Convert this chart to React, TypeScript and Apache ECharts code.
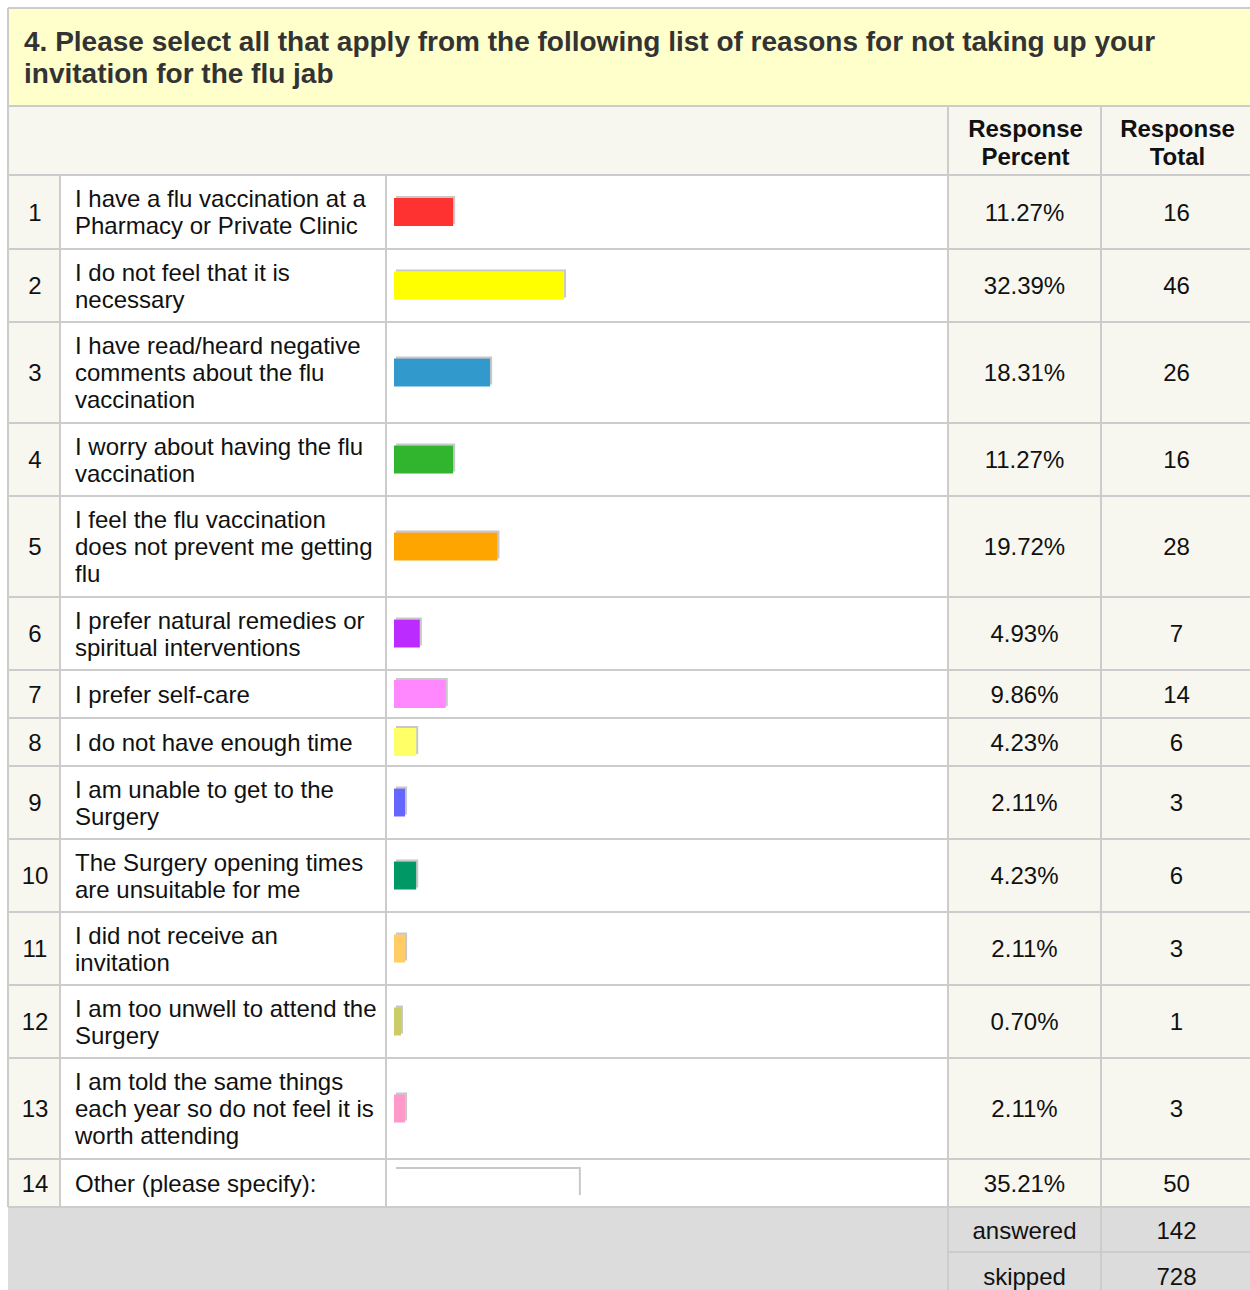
import React, { useEffect, useRef } from "react";
import * as echarts from "echarts";

// ---------- data ----------
const titleLines = [
  "4. Please select all that apply from the following list of reasons for not taking up your",
  "invitation for the flu jab",
];
const headerPercent = "Response\nPercent";
const headerTotal = "Response\nTotal";
const rowNumbers = [1, 2, 3, 4, 5, 6, 7, 8, 9, 10, 11, 12, 13, 14];
const labels = [
  "I have a flu vaccination at a\nPharmacy or Private Clinic",
  "I do not feel that it is\nnecessary",
  "I have read/heard negative\ncomments about the flu\nvaccination",
  "I worry about having the flu\nvaccination",
  "I feel the flu vaccination\ndoes not prevent me getting\nflu",
  "I prefer natural remedies or\nspiritual interventions",
  "I prefer self-care",
  "I do not have enough time",
  "I am unable to get to the\nSurgery",
  "The Surgery opening times\nare unsuitable for me",
  "I did not receive an\ninvitation",
  "I am too unwell to attend the\nSurgery",
  "I am told the same things\neach year so do not feel it is\nworth attending",
  "Other (please specify):",
];
const percents = [11.27, 32.39, 18.31, 11.27, 19.72, 4.93, 9.86, 4.23, 2.11, 4.23, 2.11, 0.7, 2.11, 35.21];
const totals = [16, 46, 26, 16, 28, 7, 14, 6, 3, 6, 3, 1, 3, 50];
const barColors = [
  "#ff3333", "#ffff00", "#3399cc", "#33b52f", "#ffa500", "#bb2bff", "#ff88ff",
  "#ffff66", "#6666ff", "#009966", "#ffcc66", "#cccc66", "#ff99cc", "#ffffff",
];
const footerLabels = ["answered", "skipped"];
const footerValues = [142, 728];

// ---------- layout ----------
const FONT = "'Liberation Sans', Arial, Helvetica, sans-serif";
const LINE = "#cccccc";
const rowTops = [175, 249, 322, 423, 496, 597, 670, 718, 766, 839, 912, 985, 1058, 1159, 1207];
const X0 = 8, XN = 60, XL = 386, XP = 948, XT = 1101, XR = 1250;
const BAR_LEFT = 394, BAR_AREA = 525;

export default function App() {
  const ref = useRef<HTMLDivElement>(null);
  useEffect(() => {
    if (!ref.current) return;
    const chart = echarts.init(ref.current, null, { renderer: "svg" });

    const grids: any[] = [];
    const xAxes: any[] = [];
    const yAxes: any[] = [];
    const series: any[] = [];
    labels.forEach((lab, i) => {
      const top = rowTops[i];
      const h = rowTops[i + 1] - top;
      grids.push({ left: BAR_LEFT, width: BAR_AREA, top, height: h });
      xAxes.push({ gridIndex: i, type: "value", min: 0, max: 100, show: false });
      yAxes.push({ gridIndex: i, type: "category", data: [lab], show: false });
      series.push({
        type: "bar",
        xAxisIndex: i,
        yAxisIndex: i,
        barWidth: 28,
        barMinHeight: 7,
        silent: true,
        data: [{ value: percents[i], itemStyle: { color: barColors[i] } }],
        itemStyle: {
          shadowColor: "#c8c8c8",
          shadowBlur: 0,
          shadowOffsetX: 2,
          shadowOffsetY: -2,
        },
      });
    });

    const g: any[] = [];
    const rect = (x: number, y: number, w: number, h: number, fill: string) =>
      g.push({ type: "rect", shape: { x, y, width: w, height: h }, style: { fill }, z: -10, silent: true });
    const line = (x1: number, y1: number, x2: number, y2: number, w = 2) =>
      g.push({ type: "line", shape: { x1, y1, x2, y2 }, style: { stroke: LINE, lineWidth: w }, z: -5, silent: true });
    const text = (t: string, x: number, y: number, opts: any = {}) =>
      g.push({
        type: "text",
        x,
        y,
        z: 5,
        silent: true,
        style: {
          text: t,
          font: opts.font || `24px ${FONT}`,
          fill: opts.fill || "#111111",
          textAlign: opts.align || "center",
          textVerticalAlign: "middle",
          lineHeight: opts.lh || 27,
        },
      });

    // backgrounds
    rect(X0, X0, XR - X0, 106 - X0, "#ffffcc");
    rect(X0, 106, XR - X0, 175 - 106, "#f7f7f0");
    rect(X0, 175, XN - X0, 1207 - 175, "#f7f7f0");
    rect(XN, 175, XP - XN, 1207 - 175, "#ffffff");
    rect(XP, 175, XR - XP, 1207 - 175, "#f7f7f0");
    rect(X0, 1207, XR - X0, 1290 - 1207, "#dcdcdc");

    // lines
    line(X0, X0, XR, X0);
    line(X0, 106, XR, 106);
    rowTops.forEach((y) => line(X0, y, XR, y));
    line(X0, X0, X0, 1207);
    line(XN, 175, XN, 1207);
    line(XL, 175, XL, 1207);
    line(XP, 106, XP, 1290);
    line(XT, 106, XT, 1290);
    line(XP, 1252, XR, 1252);

    // title
    text(titleLines.join("\n"), 24, 57, { font: `bold 28px ${FONT}`, fill: "#333333", align: "left", lh: 32 });
    // headers
    text(headerPercent, (XP + XT) / 2 + 1, 142, { font: `bold 24px ${FONT}`, fill: "#111111", lh: 28 });
    text(headerTotal, (XT + XR) / 2 + 2, 142, { font: `bold 24px ${FONT}`, fill: "#111111", lh: 28 });

    // rows
    labels.forEach((lab, i) => {
      const cy = (rowTops[i] + rowTops[i + 1]) / 2;
      text(String(rowNumbers[i]), (X0 + XN) / 2 + 1, cy);
      text(lab, 75, cy, { align: "left" });
      text(percents[i].toFixed(2) + "%", (XP + XT) / 2, cy);
      text(String(totals[i]), (XT + XR) / 2 + 1, cy);
    });

    // footer
    const fy = [1230, 1276];
    footerLabels.forEach((lab, i) => {
      text(lab, (XP + XT) / 2, fy[i]);
      text(String(footerValues[i]), (XT + XR) / 2 + 1, fy[i]);
    });

    chart.setOption({
      animation: false,
      backgroundColor: "#ffffff",
      grid: grids,
      xAxis: xAxes,
      yAxis: yAxes,
      series,
      graphic: { elements: g },
    });
    return () => chart.dispose();
  }, []);

  return (
    <div
      ref={ref}
      style={{ position: "fixed", left: 0, top: 0, width: 1250, height: 1290 }}
    />
  );
}
